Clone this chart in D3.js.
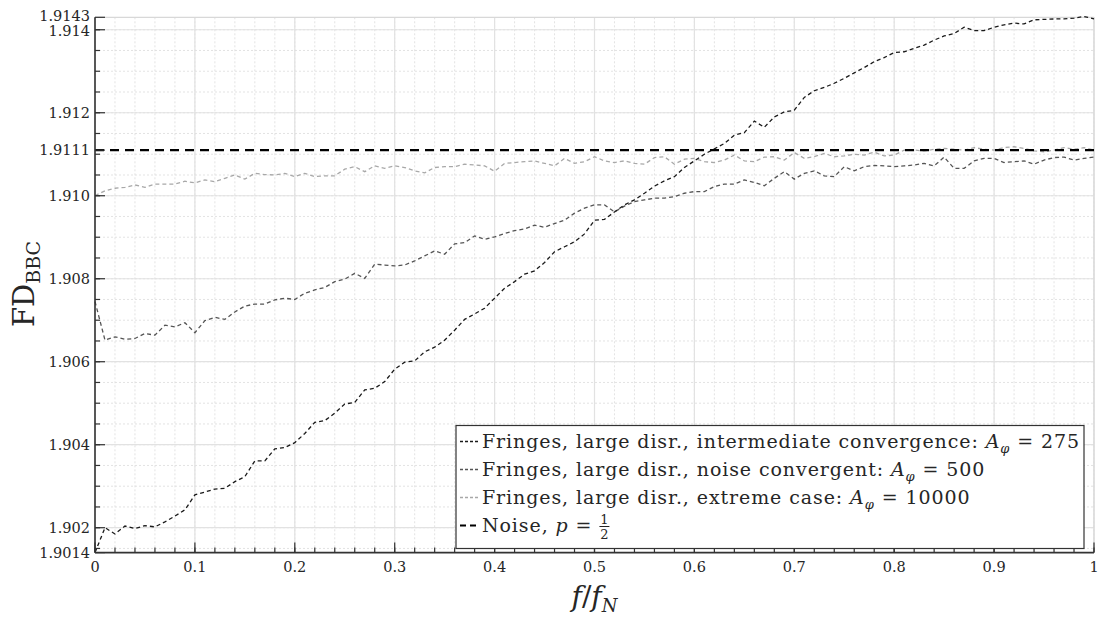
<!DOCTYPE html>
<html>
<head>
<meta charset="utf-8">
<script src="https://cdn.jsdelivr.net/npm/d3@7"></script>
<style>
  html, body { margin: 0; padding: 0; background: #fff; }
  svg { display: block; }
</style>
</head>
<body>
<svg id="chart" width="1099" height="617" font-family="'DejaVu Serif', 'Liberation Serif', 'Noto Serif', serif"></svg>
<script>
// ---------------- data ----------------
const freq = d3.range(0, 101).map(i => i / 100);

const seriesA275 = [
  1.9014, 1.9020, 1.90185, 1.90204, 1.90198, 1.90205, 1.90202, 1.90214, 1.90228, 1.90243,
  1.90279, 1.90286, 1.90293, 1.90295, 1.90311, 1.90323, 1.90361, 1.90361, 1.90390, 1.90393,
  1.90405, 1.90427, 1.90454, 1.90458, 1.90476, 1.90498, 1.90502, 1.90532, 1.90536, 1.90552,
  1.90582, 1.90599, 1.90602, 1.90624, 1.90635, 1.90652, 1.90676, 1.90702, 1.90715, 1.90729,
  1.90753, 1.90777, 1.90793, 1.90811, 1.90819, 1.90839, 1.90865, 1.90877, 1.90889, 1.90908,
  1.90941, 1.90943, 1.90961, 1.90978, 1.90990, 1.91006, 1.91023, 1.91036, 1.91046, 1.91068,
  1.91084, 1.91100, 1.91113, 1.91126, 1.91146, 1.91152, 1.91180, 1.91165, 1.91190, 1.91202,
  1.91206, 1.91237, 1.91253, 1.91261, 1.91271, 1.91283, 1.91296, 1.91309, 1.91323, 1.91333,
  1.91345, 1.91347, 1.91355, 1.91363, 1.91375, 1.91385, 1.91391, 1.91406, 1.91398, 1.91398,
  1.91406, 1.91412, 1.91416, 1.91414, 1.91424, 1.91425, 1.91426, 1.91426, 1.91428, 1.91432,
  1.91426
];

const seriesA500 = [
  1.90745, 1.90652, 1.90660, 1.90654, 1.90656, 1.90668, 1.90664, 1.90688, 1.90684, 1.90694,
  1.90670, 1.90699, 1.90707, 1.90702, 1.90720, 1.90734, 1.90739, 1.90739, 1.90749, 1.90753,
  1.90750, 1.90765, 1.90773, 1.90779, 1.90793, 1.90799, 1.90813, 1.90801, 1.90835, 1.90833,
  1.90831, 1.90833, 1.90843, 1.90855, 1.90867, 1.90859, 1.90884, 1.90887, 1.90903, 1.90895,
  1.90901, 1.90909, 1.90916, 1.90920, 1.90929, 1.90924, 1.90933, 1.90941, 1.90958, 1.90970,
  1.90978, 1.90978, 1.90961, 1.90975, 1.90986, 1.90990, 1.90994, 1.90994, 1.90998, 1.91006,
  1.91010, 1.91010, 1.91022, 1.91028, 1.91028, 1.91038, 1.91032, 1.91024, 1.91042, 1.91058,
  1.91040, 1.91054, 1.91060, 1.91048, 1.91046, 1.91070, 1.91060, 1.91070, 1.91073, 1.91072,
  1.91070, 1.91072, 1.91074, 1.91078, 1.91072, 1.91093, 1.91066, 1.91066, 1.91084, 1.91090,
  1.91090, 1.91080, 1.91082, 1.91084, 1.91076, 1.91086, 1.91092, 1.91093, 1.91086, 1.91090,
  1.91093
];

const seriesA10000 = [
  1.91000, 1.91012, 1.91018, 1.91020, 1.91026, 1.91020, 1.91028, 1.91028, 1.91028, 1.91035,
  1.91031, 1.91038, 1.91034, 1.91042, 1.91050, 1.91040, 1.91054, 1.91051, 1.91050, 1.91054,
  1.91046, 1.91054, 1.91046, 1.91048, 1.91048, 1.91064, 1.91070, 1.91058, 1.91072, 1.91066,
  1.91072, 1.91068, 1.91060, 1.91055, 1.91068, 1.91070, 1.91070, 1.91076, 1.91074, 1.91072,
  1.91059, 1.91078, 1.91080, 1.91082, 1.91084, 1.91078, 1.91072, 1.91090, 1.91078, 1.91082,
  1.91094, 1.91084, 1.91080, 1.91084, 1.91078, 1.91076, 1.91092, 1.91094, 1.91076, 1.91088,
  1.91090, 1.91082, 1.91080, 1.91086, 1.91098, 1.91084, 1.91082, 1.91093, 1.91094, 1.91086,
  1.91104, 1.91090, 1.91094, 1.91102, 1.91094, 1.91096, 1.91100, 1.91098, 1.91105, 1.91096,
  1.91098, 1.91110, 1.91110, 1.91108, 1.91112, 1.91114, 1.91112, 1.91110, 1.91116, 1.91112,
  1.91110, 1.91116, 1.91118, 1.91114, 1.91108, 1.91106, 1.91110, 1.91116, 1.91112, 1.91116,
  1.91110
];

const noiseLevel = 1.9111;

const yTickValues = [1.9014, 1.902, 1.904, 1.906, 1.908, 1.910, 1.9111, 1.912, 1.914, 1.9143];
const yTickLabels = ["1.9014", "1.902", "1.904", "1.906", "1.908", "1.910", "1.9111", "1.912", "1.914", "1.9143"];
const xTickValues = [0, 0.1, 0.2, 0.3, 0.4, 0.5, 0.6, 0.7, 0.8, 0.9, 1];
const xTickLabels = ["0", "0.1", "0.2", "0.3", "0.4", "0.5", "0.6", "0.7", "0.8", "0.9", "1"];

const legendLabels = [
  "Fringes, large disr., intermediate convergence: ",
  "Fringes, large disr., noise convergent: ",
  "Fringes, large disr., extreme case: "
];
const legendValues = ["275", "500", "10000"];

// ---------------- layout ----------------
const svg = d3.select("#chart");
const L = 95, R = 1094, T = 17.3, B = 552.6;
const TXT = "#262626";

const x = d3.scaleLinear().domain([0, 1]).range([L, R]);
const y = d3.scaleLinear().domain([1.9014, 1.9143]).range([B, T]);

// grid
const minorY = d3.range(1.9015, 1.91401, 0.0005).map(v => +v.toFixed(4));
const majorY = [1.902, 1.904, 1.906, 1.908, 1.910, 1.912, 1.914];
const minorX = d3.range(0, 1.0001, 0.02).map(v => +v.toFixed(2));
const majorX = d3.range(0, 1.0001, 0.1).map(v => +v.toFixed(2));

const grid = svg.append("g");
grid.selectAll(".gmy").data(minorY).join("line")
  .attr("x1", L).attr("x2", R).attr("y1", d => y(d)).attr("y2", d => y(d))
  .attr("stroke", "#dcdcdc").attr("stroke-width", 0.8).attr("stroke-dasharray", "2,2");
grid.selectAll(".gmx").data(minorX).join("line")
  .attr("y1", T).attr("y2", B).attr("x1", d => x(d)).attr("x2", d => x(d))
  .attr("stroke", "#dcdcdc").attr("stroke-width", 0.8).attr("stroke-dasharray", "2,2");
grid.selectAll(".gMy").data(majorY).join("line")
  .attr("x1", L).attr("x2", R).attr("y1", d => y(d)).attr("y2", d => y(d))
  .attr("stroke", "#e2e2e2").attr("stroke-width", 1.2);
grid.selectAll(".gMx").data(majorX).join("line")
  .attr("y1", T).attr("y2", B).attr("x1", d => x(d)).attr("x2", d => x(d))
  .attr("stroke", "#e2e2e2").attr("stroke-width", 1.2);
grid.append("line").attr("x1", L).attr("x2", R).attr("y1", T).attr("y2", T)
  .attr("stroke", "#d8d8d8").attr("stroke-width", 1.2);
grid.append("line").attr("x1", R).attr("x2", R).attr("y1", T).attr("y2", B)
  .attr("stroke", "#d8d8d8").attr("stroke-width", 1.2);

// series lines
const lineGen = vals => d3.line().x((d, i) => x(freq[i])).y(d => y(d))(vals);
const seriesDefs = [
  { vals: seriesA275, color: "#1a1a1a" },
  { vals: seriesA500, color: "#555555" },
  { vals: seriesA10000, color: "#a8a8a8" }
];
const plot = svg.append("g");
[2, 1, 0].forEach(k => {
  plot.append("path").attr("d", lineGen(seriesDefs[k].vals))
    .attr("fill", "none").attr("stroke", seriesDefs[k].color)
    .attr("stroke-width", 1.3).attr("stroke-dasharray", "4,3");
});
plot.append("line")
  .attr("x1", x(0)).attr("x2", x(1)).attr("y1", y(noiseLevel)).attr("y2", y(noiseLevel))
  .attr("stroke", "#000").attr("stroke-width", 2.4).attr("stroke-dasharray", "9,6");

// axes
const axes = svg.append("g");
axes.selectAll(".ytm").data(minorY).join("line")
  .attr("x1", L).attr("x2", L + 5).attr("y1", d => y(d)).attr("y2", d => y(d))
  .attr("stroke", "#333").attr("stroke-width", 1.2);
axes.selectAll(".ytM").data(yTickValues).join("line")
  .attr("x1", L).attr("x2", L + 10).attr("y1", d => y(d)).attr("y2", d => y(d))
  .attr("stroke", "#333").attr("stroke-width", 1.2);
const yNudge = { "1.9143": -1.5, "1.914": 1 };
axes.selectAll(".ytl").data(yTickValues).join("text")
  .attr("x", L - 5).attr("y", (d, i) => y(d) + (yNudge[yTickLabels[i]] || 0)).attr("dy", "0.35em")
  .attr("text-anchor", "end").attr("font-size", 14.5).attr("fill", TXT)
  .text((d, i) => yTickLabels[i]);
axes.selectAll(".xtm").data(minorX).join("line")
  .attr("x1", d => x(d)).attr("x2", d => x(d)).attr("y1", B).attr("y2", B - 5)
  .attr("stroke", "#333").attr("stroke-width", 1.2);
axes.selectAll(".xtM").data(xTickValues).join("line")
  .attr("x1", d => x(d)).attr("x2", d => x(d)).attr("y1", B).attr("y2", B - 10)
  .attr("stroke", "#333").attr("stroke-width", 1.2);
axes.selectAll(".xtl").data(xTickValues).join("text")
  .attr("x", d => x(d)).attr("y", B + 19)
  .attr("text-anchor", "middle").attr("font-size", 14.5).attr("fill", TXT)
  .text((d, i) => xTickLabels[i]);
axes.append("line").attr("x1", L).attr("x2", L).attr("y1", T).attr("y2", B)
  .attr("stroke", "#333").attr("stroke-width", 1.6);
axes.append("line").attr("x1", L).attr("x2", R).attr("y1", B).attr("y2", B)
  .attr("stroke", "#333").attr("stroke-width", 1.6);

// axis titles
const xt = svg.append("text").attr("x", (L + R) / 2).attr("y", 606)
  .attr("text-anchor", "middle").attr("font-size", 28).attr("fill", TXT);
xt.append("tspan").attr("font-style", "italic").text("f");
xt.append("tspan").text("/");
xt.append("tspan").attr("font-style", "italic").text("f");
xt.append("tspan").attr("font-style", "italic").attr("font-size", 18).attr("dy", 6).text("N");

const yt = svg.append("text").attr("transform", "translate(34,284) rotate(-90)")
  .attr("text-anchor", "middle").attr("font-size", 29).attr("fill", TXT);
yt.append("tspan").text("FD");
yt.append("tspan").attr("font-size", 19).attr("dy", 6).text("BBC");

// legend
const lg = svg.append("g");
const LX = 456, LY = 425.5, LW = 628, LH = 123;
lg.append("rect").attr("x", LX).attr("y", LY).attr("width", LW).attr("height", LH)
  .attr("fill", "#fff").attr("stroke", "#333").attr("stroke-width", 1.2);
const rowY = i => LY + 16 + i * 28;
const FS = 19;
const rows = [];
seriesDefs.forEach((s, i) => {
  lg.append("line").attr("x1", LX + 4).attr("x2", LX + 22)
    .attr("y1", rowY(i)).attr("y2", rowY(i))
    .attr("stroke", s.color).attr("stroke-width", 1.3).attr("stroke-dasharray", "3,2");
  const t = lg.append("text").attr("x", LX + 26).attr("y", rowY(i) + 6.5)
    .attr("font-size", FS).attr("fill", TXT);
  t.append("tspan").text(legendLabels[i]);
  t.append("tspan").attr("font-style", "italic").text("A");
  t.append("tspan").attr("font-style", "italic").attr("font-size", 13).attr("dy", 5).text("φ");
  t.append("tspan").attr("dy", -5).text(" = " + legendValues[i]);
  rows.push(t);
});
lg.append("line").attr("x1", LX + 4).attr("x2", LX + 22)
  .attr("y1", rowY(3)).attr("y2", rowY(3))
  .attr("stroke", "#000").attr("stroke-width", 2.2).attr("stroke-dasharray", "6,4");
const nt = lg.append("text").attr("x", LX + 26).attr("y", rowY(3) + 6.5)
  .attr("font-size", FS).attr("fill", TXT);
nt.append("tspan").text("Noise, ");
nt.append("tspan").attr("font-style", "italic").text("p");
nt.append("tspan").text(" =");
rows.push(nt);

// fit the first legend row to the reference width by letter spacing
const target = 1080 - (LX + 26);
const w0 = rows[0].node().getComputedTextLength();
const nChars = (legendLabels[0] + "Aφ = 275").length;
const ls = Math.max(-1, Math.min(3, (target - w0) / nChars));
rows.forEach(r => r.attr("letter-spacing", ls));

const ntw = nt.node().getComputedTextLength();
const fx = LX + 26 + ntw + 12;
lg.append("text").attr("x", fx).attr("y", rowY(3) - 2).attr("text-anchor", "middle")
  .attr("font-size", 13).attr("fill", TXT).text("1");
lg.append("line").attr("x1", fx - 5).attr("x2", fx + 5).attr("y1", rowY(3) + 1).attr("y2", rowY(3) + 1)
  .attr("stroke", "#222").attr("stroke-width", 1);
lg.append("text").attr("x", fx).attr("y", rowY(3) + 13).attr("text-anchor", "middle")
  .attr("font-size", 13).attr("fill", TXT).text("2");
</script>
</body>
</html>
